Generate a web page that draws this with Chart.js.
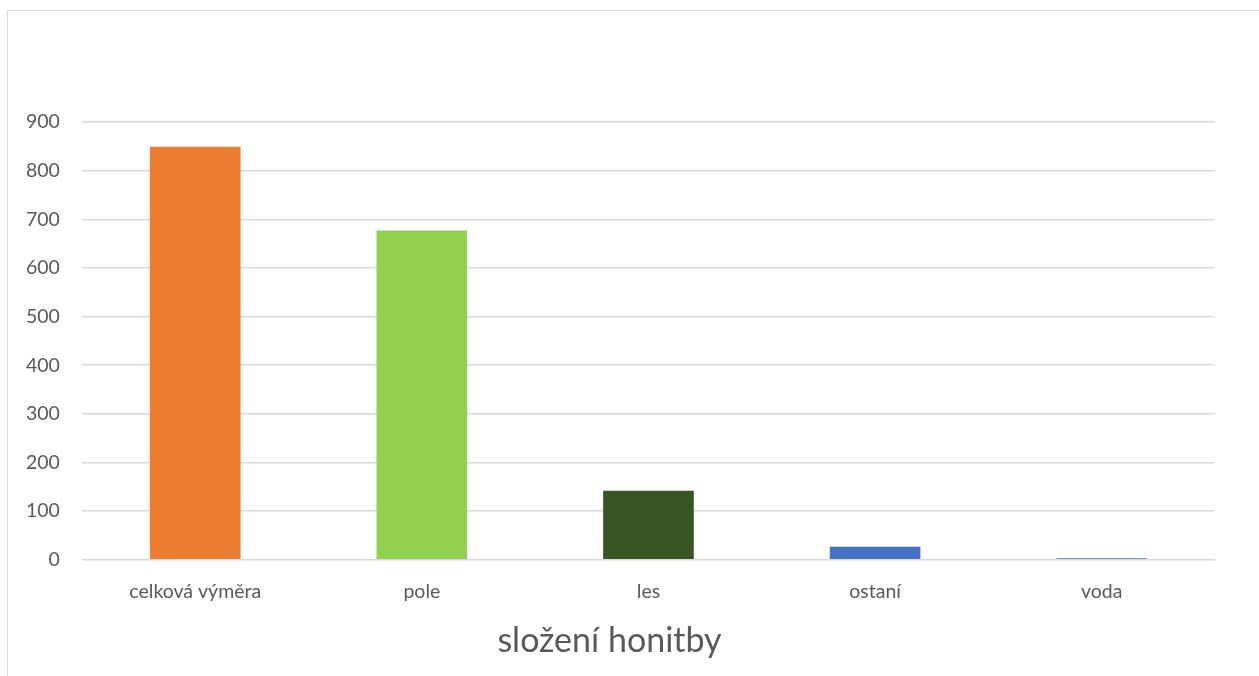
<!DOCTYPE html>
<html>
<head>
<meta charset="utf-8">
<script src="https://cdn.jsdelivr.net/npm/chart.js@4"></script>
<style>
    html, body { margin: 0; padding: 0; background: #fff; }
    #wrap { position: relative; width: 1259px; height: 676px; overflow: hidden; }
    #frame { position: absolute; left: 7px; top: 10px; width: 1300px; height: 700px;
             border-left: 1.5px solid #d9d9d9; border-top: 1.5px solid #d9d9d9; }
    #myChart { position: absolute; left: 0; top: 0; }
</style>
</head>
<body>
<div id="wrap">
    <div id="frame"></div>
    <canvas id="myChart" width="1259" height="676"></canvas>
</div>
<script>
const categories = ['celková výměra', 'pole', 'les', 'ostaní', 'voda'];
const values = [849, 677, 142, 27, 3];
const barColors = ['#ED7D31', '#92D050', '#375623', '#4472C4', '#4472C4'];
const yTicks = [0, 100, 200, 300, 400, 500, 600, 700, 800, 900];

const fontFamily = 'Lato, "Open Sans", sans-serif';
const textColor = '#595959';

let ctx = document.getElementById('myChart').getContext('2d');
let myChart = new Chart(ctx, {
    type: 'bar',
    data: {
        labels: categories,
        datasets: [{
            label: 'složení honitby',
            data: values,
            backgroundColor: barColors,
            borderWidth: 0,
            categoryPercentage: 1,
            barPercentage: 0.4
        }]
    },
    options: {
        responsive: false,
        animation: false,
        devicePixelRatio: 1,
        layout: {
            padding: { left: 4, right: 44, top: 122, bottom: 15 }
        },
        plugins: {
            legend: { display: false },
            tooltip: { enabled: false },
            title: {
                display: true,
                position: 'bottom',
                text: 'složení honitby',
                color: textColor,
                font: { family: fontFamily, size: 34, weight: 'normal' },
                padding: { top: -3, bottom: 0 }
            }
        },
        scales: {
            x: {
                grid: { display: false, drawTicks: false },
                border: { display: false },
                ticks: {
                    color: textColor,
                    padding: 20,
                    font: { family: fontFamily, size: 19.5 }
                }
            },
            y: {
                min: 0,
                max: yTicks[yTicks.length - 1],
                afterBuildTicks: function (axis) {
                    axis.ticks = yTicks.map(function (v) { return { value: v }; });
                },
                grid: { color: '#d9d9d9', lineWidth: 1.5, drawTicks: false },
                border: { display: false },
                ticks: {
                    color: textColor,
                    padding: 22,
                    font: { family: fontFamily, size: 19.5 }
                }
            }
        }
    }
});
</script>
</body>
</html>
